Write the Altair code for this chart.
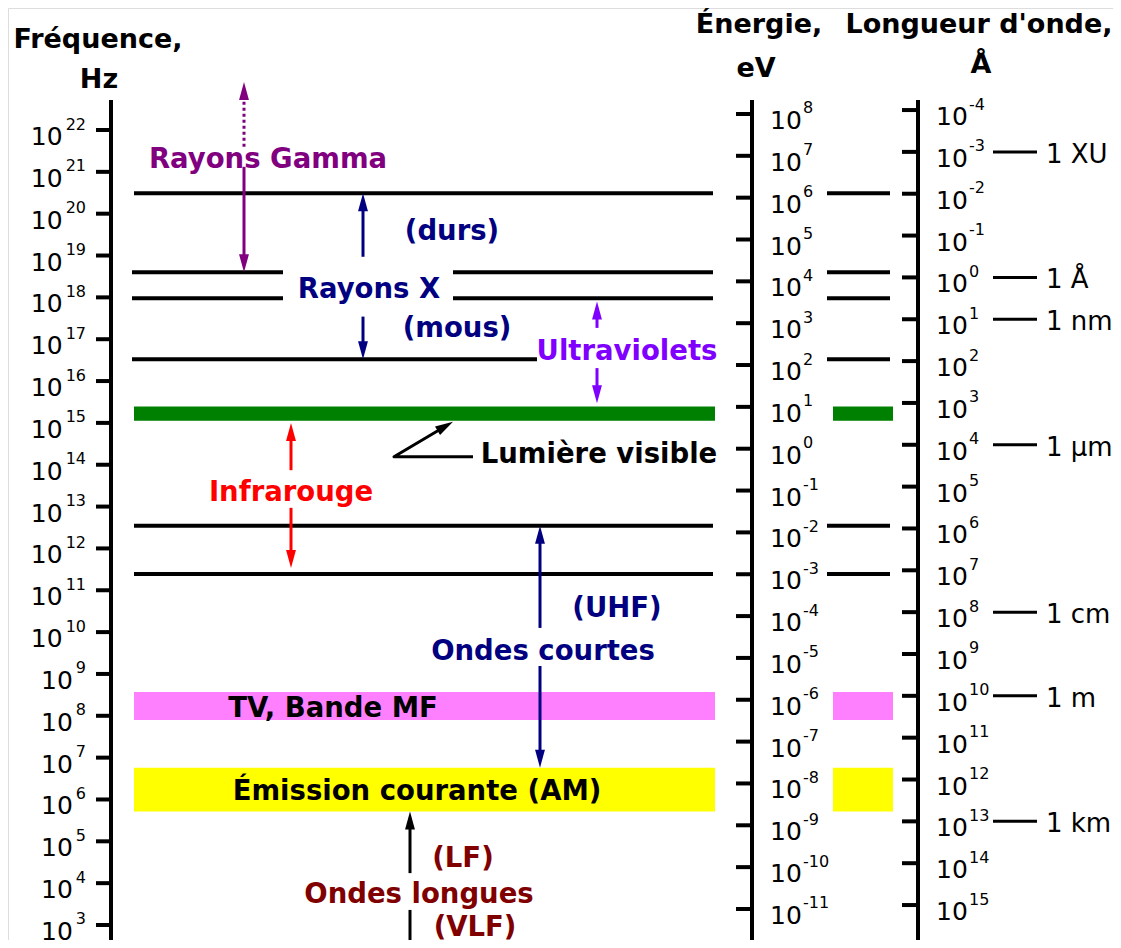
import math
import altair as alt
import pandas as pd

# ---------------- data ----------------
freq_exponents = [22, 21, 20, 19, 18, 17, 16, 15, 14, 13, 12, 11, 10, 9, 8, 7, 6, 5, 4, 3]
energy_exponents = [8, 7, 6, 5, 4, 3, 2, 1, 0, -1, -2, -3, -4, -5, -6, -7, -8, -9, -10, -11]
wave_exponents = [-4, -3, -2, -1, 0, 1, 2, 3, 4, 5, 6, 7, 8, 9, 10, 11, 12, 13, 14, 15]
EV_LOGHZ = 14.383        # log10 of (1 eV / h) in Hz
ANGSTROM_LOGHZ = 18.477  # log10 of (c / 1 Å) in Hz

wave_unit_labels = ["1 XU", "1 Å", "1 nm", "1 µm", "1 cm", "1 m", "1 km"]
wave_unit_exponents = [-3, 0, 1, 4, 8, 10, 13]

# region boundaries, log10(Hz)
boundary_logf = [20.49, 18.60, 17.98, 16.52, 12.54, 11.39]
# coloured bands, log10(Hz)
band_names = ["visible", "tv_fm", "am"]
band_low = [15.05, 7.90, 5.71]
band_high = [15.39, 8.57, 6.76]

# ---------------- layout & style ----------------
W, H = 1105, 932
X_DOMAIN = [8, 8 + W]
Y_DOMAIN = [2.6415, 24.9158]
PXD = H / (Y_DOMAIN[1] - Y_DOMAIN[0])  # pixels per decade
AXIS_TOP = 22.72

PURPLE, NAVY, VIOLET, RED, MAROON = "#800080", "#000080", "#8000ff", "#ff0000", "#800000"
band_colors = ["#008000", "#ff80ff", "#ffff00"]

FONT = "DejaVu Sans"
xs = alt.Scale(domain=X_DOMAIN, nice=False, zero=False)
ys = alt.Scale(domain=Y_DOMAIN, nice=False, zero=False)


def X(f="x"):
    return alt.X(f"{f}:Q", scale=xs, axis=None)


def Y(f="y"):
    return alt.Y(f"{f}:Q", scale=ys, axis=None)


# bands (main panel + energy column)
band_rows = []
for lo, hi, c in zip(band_low, band_high, band_colors):
    band_rows.append(dict(x=134, x2=715, y=lo, y2=hi, color=c))
    band_rows.append(dict(x=833, x2=893, y=lo, y2=hi, color=c))
bands = alt.Chart(pd.DataFrame(band_rows)).mark_rect().encode(
    x=X(), x2="x2:Q", y=Y(), y2="y2:Q", color=alt.Color("color:N", scale=None))

# boundary lines
seg_layout = [
    [(134, 713)],
    [(132, 283), (453, 713)],
    [(132, 283), (453, 713)],
    [(132, 537)],
    [(134, 713)],
    [(134, 713)],
]
line_rows = []
for v, segs in zip(boundary_logf, seg_layout):
    for a, b in segs:
        line_rows.append(dict(x=a, x2=b, y=v))
    line_rows.append(dict(x=827, x2=890, y=v))
lines = alt.Chart(pd.DataFrame(line_rows)).mark_rule(strokeWidth=4, color="black").encode(
    x=X(), x2="x2:Q", y=Y())

# axes
axis_rows = [dict(x=111, y=Y_DOMAIN[0], y2=AXIS_TOP), dict(x=752, y=Y_DOMAIN[0], y2=AXIS_TOP),
             dict(x=918, y=Y_DOMAIN[0], y2=AXIS_TOP)]
axes = alt.Chart(pd.DataFrame(axis_rows)).mark_rule(strokeWidth=4, color="black").encode(
    x=X(), y=Y(), y2="y2:Q")

tick_rows = []
for e in freq_exponents:
    tick_rows.append(dict(x=96, x2=111, y=e))
for e in energy_exponents:
    tick_rows.append(dict(x=736, x2=752, y=e + EV_LOGHZ))
for w in wave_exponents:
    tick_rows.append(dict(x=902, x2=918, y=ANGSTROM_LOGHZ - w))
ticks = alt.Chart(pd.DataFrame(tick_rows)).mark_rule(strokeWidth=4, color="black").encode(
    x=X(), x2="x2:Q", y=Y())

# tick labels
EXP_CHAR = 10.2
freq_base = pd.DataFrame([dict(x=86 - len(str(e)) * EXP_CHAR - 3, y=e, t="10") for e in freq_exponents])
freq_exp = pd.DataFrame([dict(x=86, y=e, t=str(e)) for e in freq_exponents])
left_base = pd.DataFrame(
    [dict(x=770, y=e + EV_LOGHZ, t="10") for e in energy_exponents]
    + [dict(x=936, y=ANGSTROM_LOGHZ - w, t="10") for w in wave_exponents])
left_exp = pd.DataFrame(
    [dict(x=803, y=e + EV_LOGHZ, t=str(e)) for e in energy_exponents]
    + [dict(x=969, y=ANGSTROM_LOGHZ - w, t=str(w)) for w in wave_exponents])


def txt(df, align, size, dy):
    return alt.Chart(df).mark_text(font=FONT, fontSize=size, align=align, baseline="middle",
                                   dy=dy, color="black").encode(x=X(), y=Y(), text="t:N")


lab_layers = [
    txt(freq_base, "right", 25, 7),
    txt(freq_exp, "right", 16, -5.5),
    txt(left_base, "left", 25, 7),
    txt(left_exp, "left", 16, -5.5),
]

# wavelength unit markers
unit_df = pd.DataFrame([dict(x=993, x2=1037, y=ANGSTROM_LOGHZ - w, t=t)
                        for t, w in zip(wave_unit_labels, wave_unit_exponents)])
unit_lines = alt.Chart(unit_df).mark_rule(strokeWidth=3, color="black").encode(
    x=X(), x2="x2:Q", y=Y())
unit_text = alt.Chart(unit_df.assign(x=1046)).mark_text(
    font=FONT, fontSize=26, align="left", baseline="middle", dy=3).encode(x=X(), y=Y(), text="t:N")

# arrows: column x, tail, tip (log10 Hz), colour, dotted
arrow_specs = [
    (244, 21.60, 23.15, PURPLE, True),
    (244, 21.12, 18.60, PURPLE, False),
    (363, 18.97, 20.49, NAVY, False),
    (363, 17.54, 16.52, NAVY, False),
    (597, 17.27, 17.90, VIOLET, False),
    (597, 16.31, 15.47, VIOLET, False),
    (291, 13.87, 15.00, RED, False),
    (291, 12.97, 11.53, RED, False),
    (540, 10.10, 12.54, NAVY, False),
    (540, 9.19, 6.76, NAVY, False),
    (410, 4.24, 5.71, "black", False),
]
HEAD_PX = 18
shaft_rows, dot_rows, head_rows = [], [], []
for x, tail, tip, c, dotted in arrow_specs:
    sgn = 1 if tip > tail else -1
    end = tip - sgn * (HEAD_PX * 0.6) / PXD
    row = dict(x=x, y=tail, y2=end, color=c)
    (dot_rows if dotted else shaft_rows).append(row)
    head_rows.append(dict(x=x, y=tip, angle=0 if sgn > 0 else 180, color=c))
shaft_rows.append(dict(x=410, y=3.36, y2=Y_DOMAIN[0], color="black"))

shafts = alt.Chart(pd.DataFrame(shaft_rows)).mark_rule(strokeWidth=3).encode(
    x=X(), y=Y(), y2="y2:Q", color=alt.Color("color:N", scale=None))
dots = alt.Chart(pd.DataFrame(dot_rows)).mark_rule(strokeWidth=3, strokeDash=[3, 3]).encode(
    x=X(), y=Y(), y2="y2:Q", color=alt.Color("color:N", scale=None))

# pointer to visible light
ptr_pts = [(473, 14.19), (394, 14.19), (453, 15.03)]
(px0, py0), (px1, py1) = ptr_pts[1], ptr_pts[2]
dx_px, dy_px = px1 - px0, (py1 - py0) * PXD
ang = math.degrees(math.atan2(dx_px, dy_px))
L = math.hypot(dx_px, dy_px)
k = (L - HEAD_PX * 0.6) / L
ptr_rows = [dict(x=ptr_pts[0][0], y=ptr_pts[0][1], o=0), dict(x=px0, y=py0, o=1),
            dict(x=px0 + dx_px * k, y=py0 + (py1 - py0) * k, o=2)]
pointer = alt.Chart(pd.DataFrame(ptr_rows)).mark_line(
    strokeWidth=3, color="black", strokeJoin="round").encode(x=X(), y=Y(), order="o:Q")
head_rows.append(dict(x=px1, y=py1, angle=ang, color="black"))

heads = alt.Chart(pd.DataFrame(head_rows)).mark_point(
    shape="M0,0L0.55,2L-0.55,2Z", filled=True, size=HEAD_PX ** 2, opacity=1, strokeWidth=0).encode(
    x=X(), y=Y(), angle=alt.Angle("angle:Q", scale=None), color=alt.Color("color:N", scale=None))

# annotation labels: text, x column, log10 Hz, colour
ann = pd.DataFrame([
    dict(t="Rayons Gamma", x=268, y=21.33, color=PURPLE),
    dict(t="(durs)", x=452, y=19.61, color=NAVY),
    dict(t="Rayons X", x=369, y=18.22, color=NAVY),
    dict(t="(mous)", x=457, y=17.30, color=NAVY),
    dict(t="Ultraviolets", x=627, y=16.74, color=VIOLET),
    dict(t="Lumière visible", x=599, y=14.28, color="black"),
    dict(t="Infrarouge", x=291, y=13.37, color=RED),
    dict(t="(UHF)", x=617, y=10.61, color=NAVY),
    dict(t="Ondes courtes", x=543, y=9.57, color=NAVY),
    dict(t="TV, Bande MF", x=333, y=8.22, color="black"),
    dict(t="Émission courante (AM)", x=417, y=6.23, color="black"),
    dict(t="(LF)", x=463, y=4.63, color=MAROON),
    dict(t="Ondes longues", x=419, y=3.76, color=MAROON),
    dict(t="(VLF)", x=475, y=2.98, color=MAROON),
])
ann_layer = alt.Chart(ann).mark_text(font=FONT, fontSize=27.5, fontWeight="bold",
                                     align="center", baseline="middle", dy=2).encode(
    x=X(), y=Y(), text="t:N", color=alt.Color("color:N", scale=None))

# column headers
headers = pd.DataFrame([
    dict(t="Fréquence,", x=98, py=48, s=27),
    dict(t="Hz", x=99, py=88, s=27),
    dict(t="Énergie,", x=759, py=33, s=27),
    dict(t="eV", x=756, py=77, s=27),
    dict(t="Longueur d'onde,", x=979, py=33, s=27),
    dict(t="Å", x=981, py=73, s=27),
])
header_layers = []
for _, r in headers.iterrows():
    header_layers.append(
        alt.Chart(pd.DataFrame([dict(t=r.t, x=r.x)])).mark_text(
            font=FONT, fontSize=float(r.s), fontWeight="bold", align="center", baseline="alphabetic").encode(
            x=X(), y=alt.value(float(r.py - 8)), text="t:N"))

chart = alt.layer(
    bands, lines, axes, ticks, unit_lines, shafts, dots, pointer, heads,
    *lab_layers, unit_text, ann_layer, *header_layers
).properties(
    width=W, height=H, padding=0, autosize=alt.AutoSizeParams(type="none")
).configure_view(stroke=None).configure(background="white")

chart.save("out.html", embed_options={"renderer": "svg", "actions": False})
